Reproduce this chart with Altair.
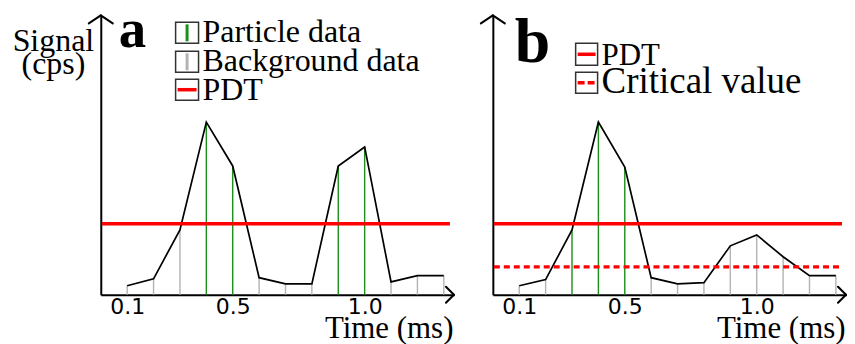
import altair as alt
import pandas as pd

# ---- data ----
times = [0.1, 0.2, 0.3, 0.4, 0.5, 0.6, 0.7, 0.8, 0.9, 1.0, 1.1, 1.2, 1.3]
signal_a = [3.2, 5.7, 23.2, 61.8, 46.1, 6.1, 3.9, 3.9, 46.1, 52.9, 4.6, 6.8, 6.8]
kind_a = ["Background", "Background", "Background", "Particle", "Particle",
          "Background", "Background", "Background", "Particle", "Particle",
          "Background", "Background", "Background"]
signal_b = [3.2, 5.4, 23.2, 61.8, 45.7, 6.1, 3.9, 4.3, 17.5, 21.4, 13.6, 6.8, 6.8]
kind_b = ["Background", "Background", "Particle", "Particle", "Particle",
          "Background", "Background", "Background", "Background", "Background",
          "Background", "Background", "Background"]
pdt_level = 25.4
critical_level = 10.0
tick_values = [0.1, 0.5, 1.0]
legend_a = ["Particle data", "Background data", "PDT"]
legend_b = ["PDT", "Critical value"]

# ---- styling ----
W, H = 354, 280
PX_PER_MS = 264.5
XMAX, YMAX = W / PX_PER_MS, 100
PX_PER_UNIT = H / YMAX
SERIF = "Liberation Serif"
GREEN = "#1a8f1a"
GRAY = "#b3b3b3"
RED = "#ff0000"

xs = alt.Scale(domain=[0, XMAX], nice=False, zero=False)
ys = alt.Scale(domain=[0, YMAX], nice=False)


def x_axis():
    return alt.Axis(values=tick_values, format=".1f", labelFont="DejaVu Sans",
                    labelFontSize=22, labelColor="black", labelPadding=2,
                    labelFlush=False, ticks=False, grid=False,
                    domainColor="black", domainWidth=2,
                    title="Time (ms)", titleFont=SERIF, titleFontSize=31,
                    titleFontWeight="normal", titleColor="black",
                    titleAnchor="end", titleAlign="right",
                    titleBaseline="alphabetic", titleX=W - 1, titleY=43)


def y_axis(with_title):
    kw = dict(labels=False, ticks=False, grid=False, domainColor="black",
              domainWidth=2, minExtent=0)
    if with_title:
        kw.update(title=["Signal", "(cps)"], titleAngle=0, titleAlign="center",
                  titleBaseline="alphabetic", titleX=-48, titleY=35,
                  titleFont=SERIF, titleFontSize=32, titleFontWeight="normal",
                  titleColor="black", titleLineHeight=23)
    else:
        kw.update(title=None)
    return alt.Axis(**kw)


def arm(x0, y0, x1, y1):
    one = pd.DataFrame({"v": [0]})
    return alt.Chart(one).mark_rule(color="black", strokeWidth=2,
                                    strokeCap="round").encode(
        x=alt.datum(x0), y=alt.datum(y0), x2=alt.datum(x1), y2=alt.datum(y1))


def panel(signal, kind, letter, with_title, legend_rows, critical, letter_pos,
          letter_size):
    df = pd.DataFrame({"t": times, "s": signal, "kind": kind})
    base = alt.Chart(df)
    stems = base.mark_rule(strokeWidth=1.4).encode(
        x=alt.X("t:Q", scale=xs, axis=x_axis()),
        y=alt.Y("s:Q", scale=ys, axis=y_axis(with_title)),
        y2=alt.datum(0),
        color=alt.Color("kind:N", scale=alt.Scale(domain=["Particle", "Background"],
                                                  range=[GREEN, GRAY]), legend=None),
    )
    line = base.mark_line(color="black", strokeWidth=1.7).encode(
        x=alt.X("t:Q", scale=xs), y=alt.Y("s:Q", scale=ys))
    one = pd.DataFrame({"v": [0]})
    x_end = XMAX - 4 / PX_PER_MS
    pdt = alt.Chart(one).mark_rule(color=RED, strokeWidth=3.5).encode(
        x=alt.datum(1 / PX_PER_MS), x2=alt.datum(x_end), y=alt.datum(pdt_level))
    layers = [stems, line, pdt]
    if critical:
        crit = alt.Chart(one).mark_rule(color=RED, strokeWidth=3.2,
                                        strokeDash=[6, 4]).encode(
            x=alt.datum(1 / PX_PER_MS), x2=alt.datum(x_end),
            y=alt.datum(critical_level))
        layers.append(crit)
    # axis arrowheads (open chevrons)
    hw, dp = 12 / PX_PER_MS, 8 / PX_PER_UNIT
    layers += [arm(0, YMAX, -hw, YMAX - dp), arm(0, YMAX, hw, YMAX - dp)]
    dx, hh = 8 / PX_PER_MS, 8 / PX_PER_UNIT
    layers += [arm(XMAX, 0, XMAX - dx, hh), arm(XMAX, 0, XMAX - dx, -hh)]
    # panel letter
    lx, ly = letter_pos
    layers.append(alt.Chart(one).mark_text(font=SERIF, fontWeight="bold",
                                           fontSize=letter_size, align="left",
                                           baseline="alphabetic",
                                           color="black").encode(
        x=alt.value(lx), y=alt.value(ly), text=alt.value(letter)))
    # legend
    for r in legend_rows:
        bx, by, bw, bh = r["box"]
        layers.append(alt.Chart(one).mark_rect(fill="white", stroke="#333333",
                                               strokeWidth=1.5).encode(
            x=alt.value(bx), x2=alt.value(bx + bw), y=alt.value(by),
            y2=alt.value(by + bh)))
        sym = r["sym"]
        if sym == "v":
            layers.append(alt.Chart(one).mark_rule(color=r["color"], strokeWidth=3).encode(
                x=alt.value(bx + bw / 2), y=alt.value(by + 2), y2=alt.value(by + bh - 2)))
        else:
            mk = dict(color=RED, strokeWidth=3.5)
            if sym == "dash":
                mk["strokeDash"] = [7, 3]
            layers.append(alt.Chart(one).mark_rule(**mk).encode(
                x=alt.value(bx + 2), x2=alt.value(bx + bw - 2),
                y=alt.value(by + bh / 2), y2=alt.value(by + bh / 2)))
        layers.append(alt.Chart(one).mark_text(font=SERIF, fontSize=r["size"],
                                               align="left", baseline="alphabetic",
                                               color="black").encode(
            x=alt.value(bx + bw + 4), y=alt.value(r["base"]), text=alt.value(r["label"])))
    return alt.layer(*layers).properties(width=W, height=H)


rows_a = [
    dict(box=(75, 7, 23, 21), sym="v", color=GREEN, label=legend_a[0], base=27, size=32),
    dict(box=(75, 36, 23, 21), sym="v", color=GRAY, label=legend_a[1], base=56, size=32),
    dict(box=(75, 64, 23, 21), sym="h", color=RED, label=legend_a[2], base=85, size=32),
]
rows_b = [
    dict(box=(83, 28, 22, 22), sym="h", color=RED, label=legend_b[0], base=50, size=31),
    dict(box=(83, 57, 22, 21), sym="dash", color=RED, label=legend_b[1], base=78, size=37),
]

left = panel(signal_a, kind_a, "a", True, rows_a, False, (18, 32), 55)
right = panel(signal_b, kind_b, "b", False, rows_b, True, (22, 47), 64)

chart = alt.hconcat(left, right, spacing=24).resolve_scale(
    color="independent").configure_view(stroke=None).properties(
    padding={"left": 4, "top": -5, "right": 0, "bottom": 0},
    background="white")

chart.save("out.html", embed_options={"renderer": "svg", "actions": False})
